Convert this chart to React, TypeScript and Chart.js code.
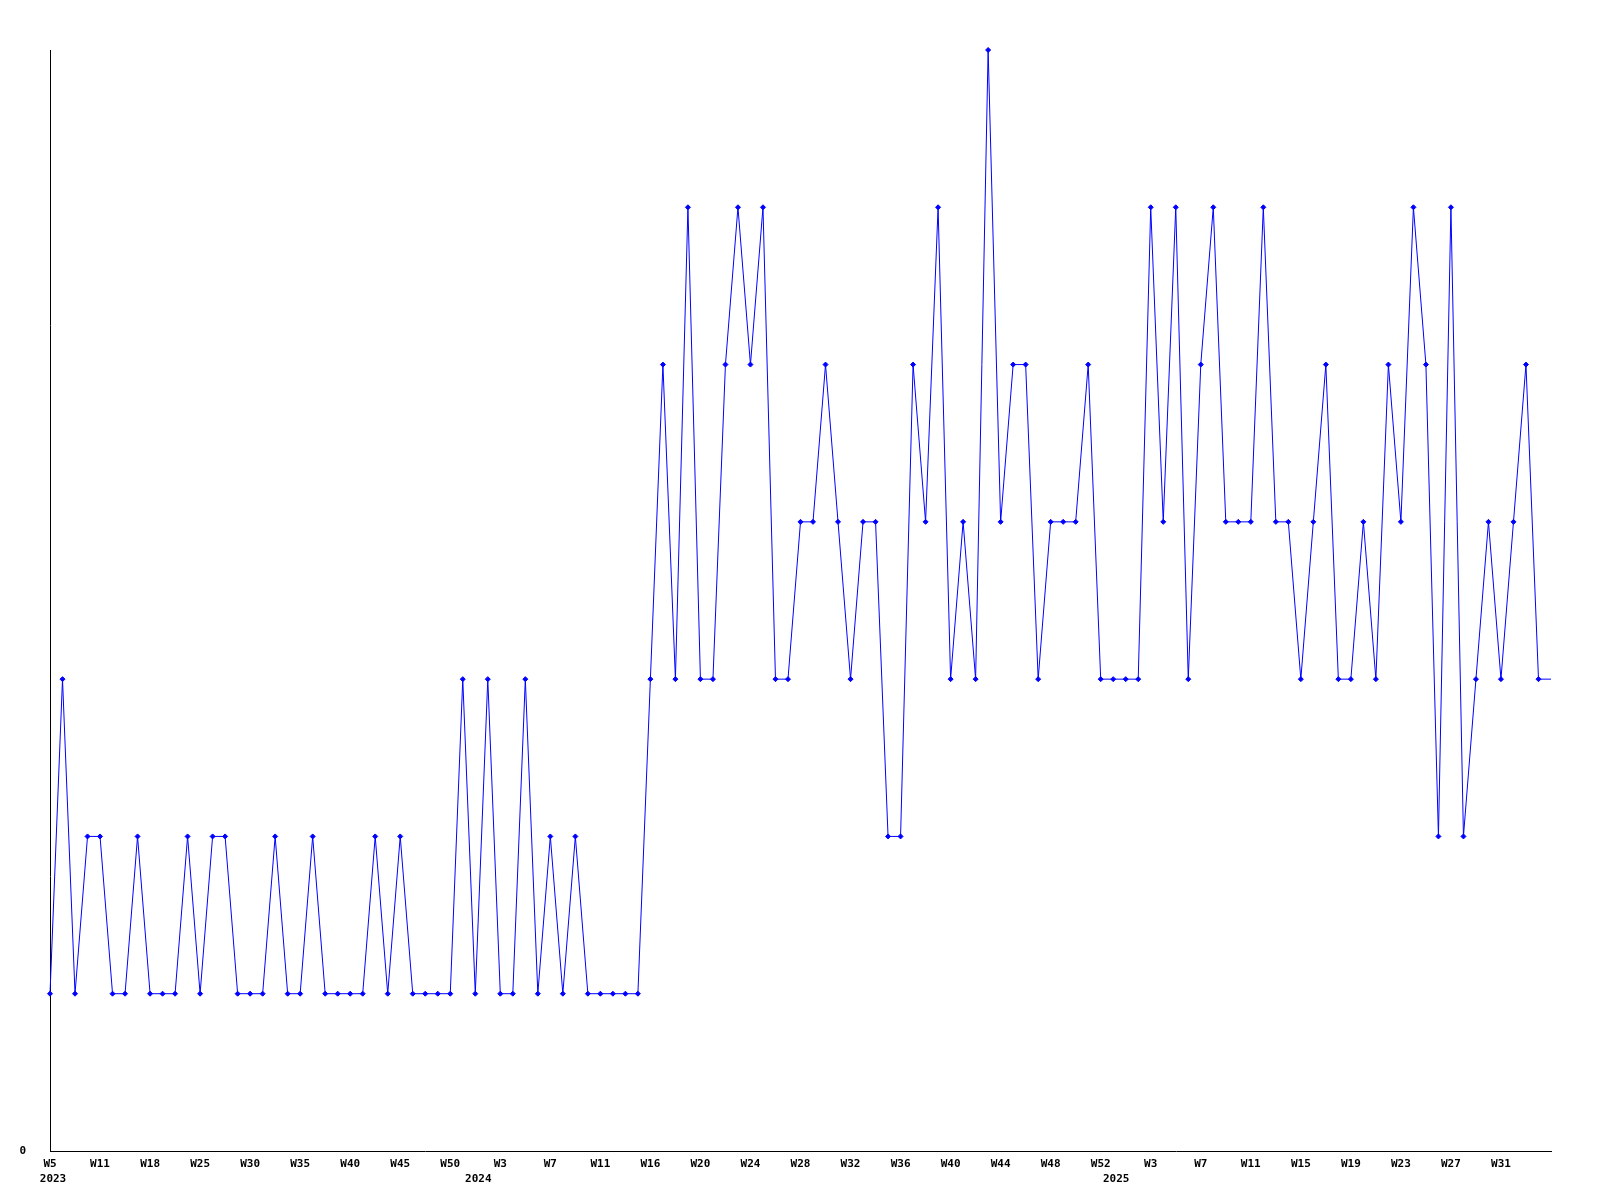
import React, { useEffect, useRef } from "react";
import { Chart, registerables } from "chart.js";

Chart.register(...registerables);

const weekLabels: string[] = [
  "W5", "W6", "W8", "W9", "W11", "W13", "W14", "W16", "W18", "W20",
  "W21", "W23", "W25", "W26", "W27", "W29", "W30", "W31", "W32", "W34",
  "W35", "W36", "W37", "W39", "W40", "W41", "W42", "W44", "W45", "W46",
  "W47", "W49", "W50", "W52", "W1", "W2", "W3", "W4", "W5", "W6",
  "W7", "W8", "W9", "W10", "W11", "W13", "W14", "W15", "W16", "W17",
  "W18", "W19", "W20", "W21", "W22", "W23", "W24", "W25", "W26", "W27",
  "W28", "W29", "W30", "W31", "W32", "W33", "W34", "W35", "W36", "W37",
  "W38", "W39", "W40", "W41", "W42", "W43", "W44", "W45", "W46", "W47",
  "W48", "W49", "W50", "W51", "W52", "W1", "W1", "W2", "W3", "W4",
  "W5", "W6", "W7", "W8", "W9", "W10", "W11", "W12", "W13", "W14",
  "W15", "W16", "W17", "W18", "W19", "W20", "W21", "W22", "W23", "W24",
  "W25", "W26", "W27", "W28", "W29", "W30", "W31", "W32", "W33", "W34",
  "W35",
];

const values: number[] = [
  1, 3, 1, 2, 2, 1, 1, 2, 1, 1,
  1, 2, 1, 2, 2, 1, 1, 1, 2, 1,
  1, 2, 1, 1, 1, 1, 2, 1, 2, 1,
  1, 1, 1, 3, 1, 3, 1, 1, 3, 1,
  2, 1, 2, 1, 1, 1, 1, 1, 3, 5,
  3, 6, 3, 3, 5, 6, 5, 6, 3, 3,
  4, 4, 5, 4, 3, 4, 4, 2, 2, 5,
  4, 6, 3, 4, 3, 7, 4, 5, 5, 3,
  4, 4, 4, 5, 3, 3, 3, 3, 6, 4,
  6, 3, 5, 6, 4, 4, 4, 6, 4, 4,
  3, 4, 5, 3, 3, 4, 3, 5, 4, 6,
  5, 2, 6, 2, 3, 4, 3, 4, 5, 3,
  3,
];

const yearNames: string[] = ["2023", "2024", "2025"];
const yearStartIndex: number[] = [0, 34, 85];

const yTickValues: number[] = [0];
const yMin = 0;
const yMax = 7;
const labelEvery = 4;

const FONT = { family: "'DejaVu Sans Mono', monospace", size: 11, weight: "bold" as const };

export default function App() {
  const ref = useRef<HTMLCanvasElement | null>(null);

  useEffect(() => {
    const canvas = ref.current;
    if (!canvas) return;

    const last = values.length - 1;

    const yearPlugin = {
      id: "yearRow",
      afterDraw(chart: any) {
        const xs = chart.scales.x;
        const ctx = chart.ctx;
        ctx.save();
        ctx.fillStyle = "#000";
        ctx.font = "bold 11px 'DejaVu Sans Mono', monospace";
        ctx.textAlign = "center";
        ctx.textBaseline = "middle";
        yearStartIndex.forEach((idx, i) => {
          const x = xs.getPixelForValue(idx) + 3;
          ctx.fillText(yearNames[i], x, xs.top + 28.5);
        });
        ctx.restore();
      },
    };

    const chart = new Chart(canvas, {
      type: "line",
      data: {
        labels: weekLabels,
        datasets: [
          {
            data: values,
            borderColor: "#0000ff",
            backgroundColor: "#0000ff",
            borderWidth: 1,
            tension: 0,
            pointStyle: "rectRot",
            pointRadius: (c: any) => (c.dataIndex === last ? 0 : 2.5),
            pointBorderWidth: 1,
            pointBorderColor: "#0000ff",
            pointBackgroundColor: "#0000ff",
            clip: false as any,
          },
        ],
      },
      options: {
        animation: false,
        responsive: false,
        devicePixelRatio: 1,
        layout: { padding: { top: 50, right: 49, left: 0, bottom: 0 } },
        plugins: {
          legend: { display: false },
          tooltip: { enabled: false },
          title: { display: false },
        },
        scales: {
          x: {
            type: "category",
            offset: false,
            grid: { display: false, drawTicks: false },
            border: { display: true, color: "#000", width: 1 },
            ticks: {
              autoSkip: false,
              maxRotation: 0,
              minRotation: 0,
              color: "#000",
              font: FONT,
              padding: 7,
              callback: (_v: any, i: number) =>
                i % labelEvery === 0 && i !== last ? weekLabels[i] : "",
            },
            afterFit: (s: any) => {
              s.height = 49;
            },
          },
          y: {
            min: yMin,
            max: yMax,
            grid: { display: false, drawTicks: false },
            border: { display: true, color: "#000", width: 1 },
            ticks: {
              color: "#000",
              font: FONT,
              padding: 24,
            },
            afterBuildTicks: (s: any) => {
              s.ticks = yTickValues.map((v) => ({ value: v }));
            },
            afterFit: (s: any) => {
              s.width = 50;
            },
          },
        },
      },
      plugins: [yearPlugin],
    });

    return () => chart.destroy();
  }, []);

  return (
    <div style={{ position: "absolute", left: 0, top: 0, width: 1600, height: 1200, background: "#fff" }}>
      <canvas ref={ref} width={1600} height={1200} style={{ width: 1600, height: 1200, display: "block" }} />
    </div>
  );
}
